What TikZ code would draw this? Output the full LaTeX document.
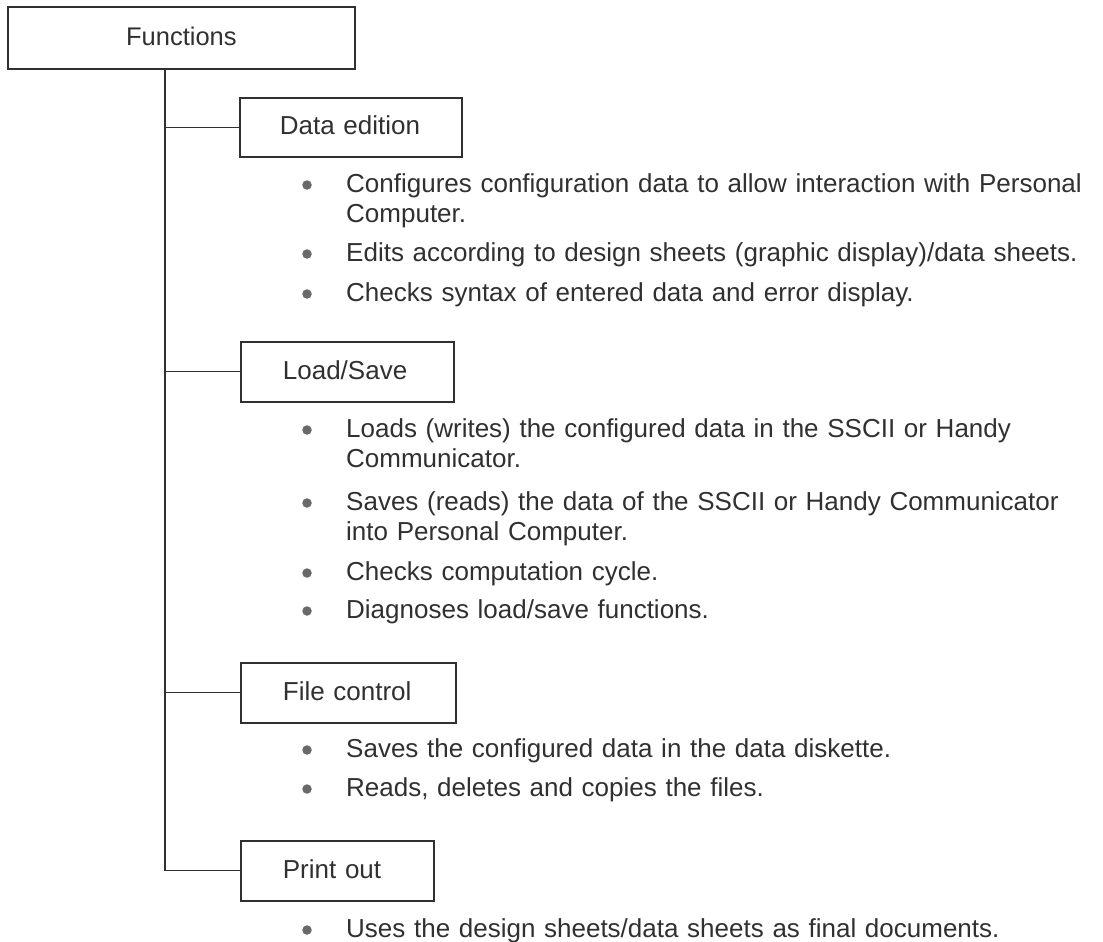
\documentclass[tikz,border=0pt]{standalone}
\usepackage{fontspec}
\setmainfont{Liberation Sans}
\definecolor{ink}{RGB}{48,48,48}
\definecolor{dotgray}{RGB}{105,105,105}
\begin{document}
\begin{tikzpicture}[x=1pt,y=-1pt,
  font=\fontsize{26}{30}\selectfont,
  every node/.style={text=ink},
  fbox/.style={draw=ink, line width=1.8pt, rectangle, inner ysep=0pt, inner xsep=42pt,
    text height=19pt, text depth=4pt, anchor=north west, align=left},
  link/.style={draw=ink, line width=1.1pt},
  item/.style={anchor=base west, inner sep=0pt, text width=760pt, align=left},
  bullet/.style={circle, fill=dotgray, draw=none, inner sep=0pt, minimum size=9.5pt}
]
\useasboundingbox (0,0) rectangle (1103,942);

% top-level box
\node[fbox, inner xsep=0pt, align=center, minimum width=347pt, minimum height=62pt] (fn) at (7,6) {\fontsize{25.5}{30}\selectfont Functions};

% function group boxes (width = text width + 2 x inner xsep)
\node[fbox, minimum height=59pt, inner xsep=40pt, text width=142pt] (de) at (239,97) {\mbox{Data edition}};
\node[fbox, minimum height=60pt, text width=129pt] (ls) at (240,341) {\mbox{Load/Save}};
\node[fbox, minimum height=60pt, text width=131pt] (fc) at (240,662) {\mbox{File control}};
\node[fbox, minimum height=60pt, text width=109pt] (po) at (240,840) {\mbox{Print out}};

% tree connectors
\coordinate (trunk) at (165,0);
\draw[link] (trunk |- fn.south) |- (po.west);
\draw[link] (trunk |- de.west) -- (de.west);
\draw[link] (trunk |- ls.west) -- (ls.west);
\draw[link] (trunk |- fc.west) -- (fc.west);

% Data edition items
\node[bullet] (b1) at (307,185) {};
\node[item] (t1) at (346,192) {Configures configuration data to allow interaction with Personal\\Computer.};
\node[bullet] (b2) at (307,254) {};
\node[item] (t2) at (346,261) {Edits according to design sheets (graphic display)/data sheets.};
\node[bullet] (b3) at (307,294) {};
\node[item] (t3) at (346,301) {Checks syntax of entered data and error display.};

% Load/Save items
\node[bullet] (b4) at (307,430) {};
\node[item] (t4) at (346,437) {Loads (writes) the configured data in the SSCII or Handy\\Communicator.};
\node[bullet] (b5) at (307,503) {};
\node[item] (t5) at (346,510) {Saves (reads) the data of the SSCII or Handy Communicator\\into Personal Computer.};
\node[bullet] (b6) at (307,573) {};
\node[item] (t6) at (346,580) {Checks computation cycle.};
\node[bullet] (b7) at (307,611) {};
\node[item] (t7) at (346,618) {Diagnoses load/save functions.};

% File control items
\node[bullet] (b8) at (307,750) {};
\node[item] (t8) at (346,757) {Saves the configured data in the data diskette.};
\node[bullet] (b9) at (307,789) {};
\node[item] (t9) at (346,796) {Reads, deletes and copies the files.};

% Print out items
\node[bullet] (b10) at (307,930) {};
\node[item] (t10) at (346,937) {Uses the design sheets/data sheets as final documents.};
\end{tikzpicture}
\end{document}
